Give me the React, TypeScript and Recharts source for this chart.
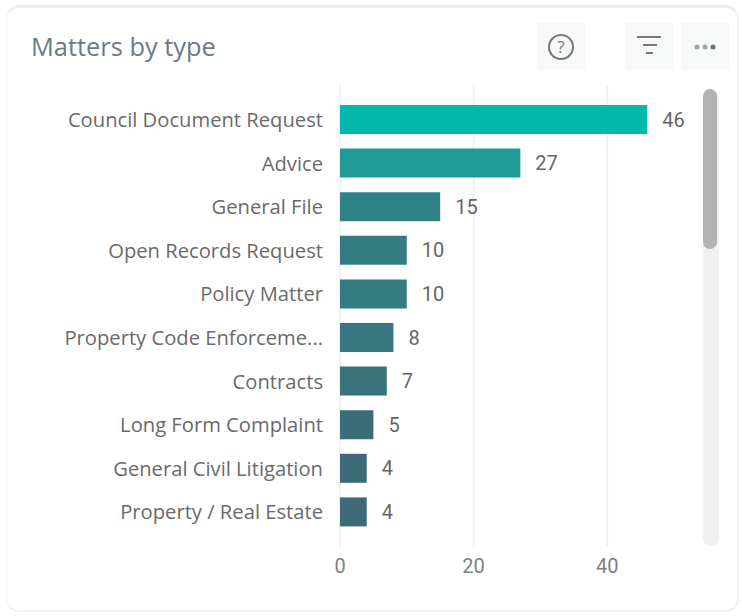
import { BarChart, Bar, XAxis, YAxis, CartesianGrid, Cell, LabelList } from 'recharts'

const matterTypes = [
  'Council Document Request',
  'Advice',
  'General File',
  'Open Records Request',
  'Policy Matter',
  'Property Code Enforceme...',
  'Contracts',
  'Long Form Complaint',
  'General Civil Litigation',
  'Property / Real Estate',
]
const matterCounts = [46, 27, 15, 10, 10, 8, 7, 5, 4, 4]
const xTicks = [0, 20, 40]

const barColors = ['#01B8AA', '#1F9A94', '#2E8288', '#337C82', '#337C82', '#367780', '#38737C', '#3B6D79', '#3D6A76', '#3D6A76']

const data = matterTypes.map((name, i) => ({ name, count: matterCounts[i] }))

const iconBox = (left: number) => ({
  position: 'absolute' as const,
  left,
  top: 23,
  width: 48,
  height: 46,
  background: '#f7f8f8',
})

export default function App() {
  return (
    <div style={{ position: 'absolute', left: 0, top: 0, width: 742, height: 616, background: '#fff', overflow: 'hidden' }}>
      <div
        style={{
          position: 'absolute',
          left: 6,
          top: 5,
          width: 733,
          height: 607,
          boxSizing: 'border-box',
          borderTop: '3px solid #ececec',
          borderRight: '2px solid #f1f1f1',
          borderBottom: '2px solid #f1f1f1',
          borderLeft: '1px solid #f6f6f6',
          borderRadius: 14,
        }}
      />
      <div
        style={{
          position: 'absolute',
          left: 31,
          top: 30,
          fontFamily: '"Open Sans", sans-serif',
          fontSize: 25.4,
          lineHeight: '32px',
          color: '#6b7a86',
        }}
      >
        Matters by type
      </div>

      <div style={iconBox(537)}>
        <svg width={48} height={46}>
          <circle cx={24} cy={24} r={12} fill="none" stroke="#77777c" strokeWidth={2} />
          <text x={24} y={30} textAnchor="middle" fontFamily="Open Sans" fontSize={17} fill="#77777c">?</text>
        </svg>
      </div>
      <div style={iconBox(625)}>
        <svg width={48} height={46}>
          <path d="M12 14H36M18 22H32M21 30H28" stroke="#77777c" strokeWidth={2} fill="none" />
        </svg>
      </div>
      <div style={iconBox(681)}>
        <svg width={48} height={46}>
          <circle cx={16} cy={24} r={2.5} fill="#a0a4a8" />
          <circle cx={24} cy={24} r={2.5} fill="#a0a4a8" />
          <circle cx={32} cy={24} r={2.5} fill="#6e6e74" />
        </svg>
      </div>

      <div style={{ position: 'absolute', left: 703, top: 90, width: 16, height: 456, background: '#f0f0f0', borderRadius: 8 }} />
      <div style={{ position: 'absolute', left: 703, top: 89, width: 14, height: 160, background: '#b3b3b3', borderRadius: 7 }} />

      <div style={{ position: 'absolute', left: 0, top: 0 }}>
        <BarChart
          width={742}
          height={616}
          layout="vertical"
          data={data}
          barSize={29}
          margin={{ top: 85, right: 68, bottom: 0, left: 0 }}
        >
          <CartesianGrid horizontal={false} verticalValues={xTicks} stroke="#f0f0f0" strokeWidth={2} />
          <XAxis
            type="number"
            domain={[0, 50]}
            ticks={xTicks}
            height={69}
            axisLine={false}
            tickLine={false}
            tickMargin={6}
            tick={{ fill: '#7d7f82', fontFamily: 'Roboto', fontSize: 20 }}
          />
          <YAxis
            type="category"
            dataKey="name"
            width={340}
            interval={0}
            padding={{ top: 13, bottom: 13 }}
            axisLine={false}
            tickLine={false}
            tickMargin={11}
            tick={{ fill: '#6a6a6a', fontFamily: '"Open Sans"', fontSize: 20.2 }}
          />
          <Bar dataKey="count" isAnimationActive={false}>
            {data.map((d, i) => (
              <Cell key={d.name} fill={barColors[i]} />
            ))}
            <LabelList
              dataKey="count"
              position="right"
              offset={15}
              style={{ fill: '#666666', fontFamily: 'Roboto', fontSize: 20 }}
            />
          </Bar>
        </BarChart>
      </div>
    </div>
  )
}
